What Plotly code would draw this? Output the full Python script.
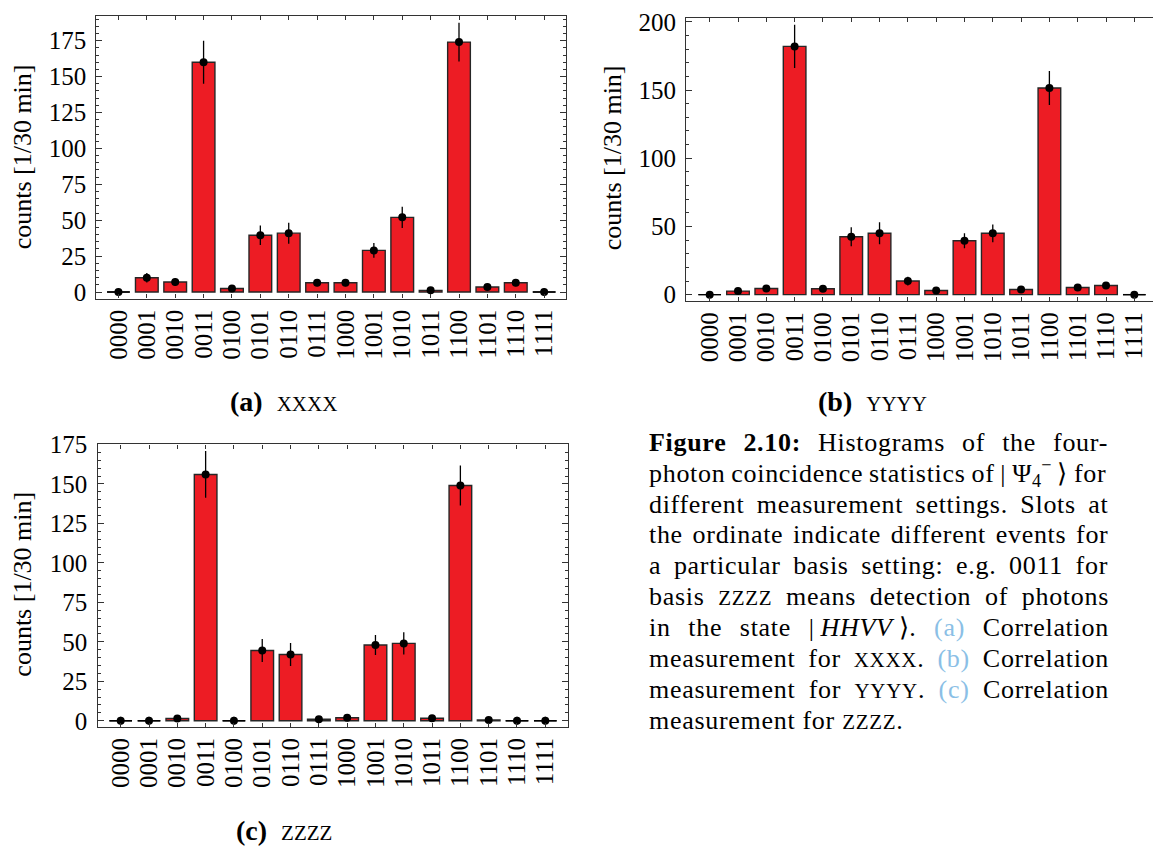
import plotly.graph_objects as go

# ---------------- data ----------------
states = ["0000", "0001", "0010", "0011", "0100", "0101", "0110", "0111",
          "1000", "1001", "1010", "1011", "1100", "1101", "1110", "1111"]

xxxx_counts = [0, 10, 7, 160, 2.5, 39.5, 41, 6.5, 6.5, 29, 52, 1.2, 174, 3.5, 6.5, 0]
xxxx_err = [2.5, 3.3, 2.8, 15, 1.7, 6.8, 7.3, 2.5, 2.5, 5.2, 7.4, 1.2, 13.5, 2, 2.5, 2.5]

yyyy_counts = [0, 2.6, 4.5, 182, 4.3, 42.5, 45, 10, 3.1, 39.5, 45, 3.8, 151.5, 5.2, 6.7, 0]
yyyy_err = [2.5, 1.6, 2.1, 15.9, 2.1, 7, 8, 3.2, 1.8, 5.5, 6.5, 1.9, 12.5, 2.3, 2.6, 2.5]

zzzz_counts = [0, 0, 1.4, 156, 0, 44.5, 42, 1, 1.9, 48, 49, 1.6, 149, 0.5, 0, 0]
zzzz_err = [2.5, 2.5, 1.2, 14.8, 2.5, 7.3, 7.3, 1, 1.4, 6.3, 7, 1.3, 12.6, 0.7, 2.5, 2.5]

panel_labels = ["(a)", "(b)", "(c)"]
panel_bases = ["XXXX", "YYYY", "ZZZZ"]
y_title = "counts [1/30 min]"

# caption: list of lines, each a list of (text, kind) segments
caption = [
    [("Figure 2.10:", "b"), (" Histograms of the four-", "r")],
    [("photon coincidence statistics of |\u2009Ψ", "r"), ("4", "sub"), ("−", "sup"), ("\u2009⟩ for", "r")],
    [("different measurement settings. Slots at", "r")],
    [("the ordinate indicate different events for", "r")],
    [("a particular basis setting: e.g. 0011 for", "r")],
    [("basis ", "r"), ("ZZZZ", "sc"), (" means detection of photons", "r")],
    [("in the state |\u2009", "r"), ("HHVV", "i"), ("\u2009⟩. ", "r"), ("(a)", "blue"), (" Correlation", "r")],
    [("measurement for ", "r"), ("XXXX", "sc"), (". ", "r"), ("(b)", "blue"), (" Correlation", "r")],
    [("measurement for ", "r"), ("YYYY", "sc"), (". ", "r"), ("(c)", "blue"), (" Correlation", "r")],
    [("measurement for ", "r"), ("ZZZZ", "sc"), (".", "r")],
]

# ---------------- style ----------------
W, H = 1153, 857
FONT = "Liberation Serif"
FS = 25
CFS = 26          # caption font size
SC_FS = 21        # small-caps size in the caption
LS = 0.7          # caption letter spacing
RED = "#ED1C24"
BLUE_C = "#8BBFE6"
BAR_W = 0.8

def px(x):
    return x / W

def py(y):
    return 1 - y / H

# Times-compatible advance widths (per 1000 em) used to justify the caption
REG = dict(zip("abcdefghijklmnopqrstuvwxyz",
               [444, 500, 444, 500, 444, 333, 500, 500, 278, 278, 500, 278, 778, 500, 500,
                500, 500, 333, 389, 278, 500, 500, 722, 500, 500, 444]))
REG.update(dict(zip("ABCDEFGHIJKLMNOPQRSTUVWXYZ",
                    [722, 667, 667, 722, 611, 556, 722, 722, 333, 389, 722, 611, 889, 722, 722,
                     556, 722, 667, 556, 611, 722, 722, 944, 722, 722, 611])))
REG.update({" ": 250, "\u2009": 200, "(": 333, ")": 333, "-": 333, ".": 250, ":": 278,
            "|": 200, "Ψ": 780, "⟩": 390, "−": 564})
for d in "0123456789":
    REG[d] = 500
BOLD = dict(REG)
BOLD.update({"F": 611, "u": 556, "r": 444, ":": 333, "a": 500, "b": 556})
ITAL = dict(REG)
ITAL.update({"H": 722, "V": 611})

def seg_width(text, kind):
    table, size = REG, CFS
    if kind == "b":
        table = BOLD
    elif kind == "i":
        table = ITAL
    elif kind == "sc":
        size = SC_FS
    elif kind in ("sub", "sup"):
        size = CFS * 0.7
    return sum(table.get(c, 500) for c in text) * size / 1000 + LS * len(text)

CAP_LEFT, CAP_RIGHT = 647, 1107

def build_line(segs, justify):
    natural = sum(seg_width(t, k) for t, k in segs)
    nsp = sum(t.count(" ") for t, k in segs)
    ws = (CAP_RIGHT - CAP_LEFT - natural) / nsp if (justify and nsp) else 0
    out = []
    for t, k in segs:
        style = "word-spacing:%.2fpx;letter-spacing:%.2fpx" % (ws, LS)
        if k == "b":
            out.append("<span style='%s;font-weight:bold'>%s</span>" % (style, t))
        elif k == "i":
            out.append("<span style='%s;font-style:italic'>%s</span>" % (style, t))
        elif k == "sc":
            out.append("<span style='%s;font-size:%dpx'>%s</span>" % (style, SC_FS, t))
        elif k == "blue":
            out.append("<span style='%s;color:%s'>%s</span>" % (style, BLUE_C, t))
        elif k == "sub":
            out.append("<sub>%s</sub>" % t)
        elif k == "sup":
            out.append("<sup>%s</sup>" % t)
        else:
            out.append("<span style='%s'>%s</span>" % (style, t))
    return "".join(out)

panels = [
    dict(counts=xxxx_counts, err=xxxx_err, xd=[px(96.3), px(566)], yd=[py(292.7), py(3.3)],
         xr=[-0.78, 15.77], yr=[-4.5, 192], major=25, minor=5, mirror_y=True,
         title_xy=(22, 148), cap_xy=(283, 398)),
    dict(counts=yyyy_counts, err=yyyy_err, xd=[px(686.2), 1.0], yd=[py(295.3), py(5)],
         xr=[-0.83, 15.66], yr=[-4.7, 202.9], major=50, minor=10, mirror_y=False,
         title_xy=(612, 149), cap_xy=(872, 398)),
    dict(counts=zzzz_counts, err=zzzz_err, xd=[px(97.5), px(567.8)], yd=[py(731.7), py(442.3)],
         xr=[-0.82, 15.795], yr=[-3.8, 175], major=25, minor=5, mirror_y=True,
         title_xy=(23, 586), cap_xy=(284, 838)),
]

fig = go.Figure()
annotations = []
xs = list(range(len(states)))

for k, p in enumerate(panels):
    sfx = "" if k == 0 else str(k + 1)
    xa, ya = "x" + sfx, "y" + sfx
    fig.add_trace(go.Bar(x=xs, y=p["counts"], width=BAR_W, xaxis=xa, yaxis=ya,
                         marker=dict(color=RED, line=dict(color="#262626", width=1.4)),
                         hoverinfo="skip"))
    zx, zy = [], []
    for i, v in enumerate(p["counts"]):
        if v == 0:
            zx += [i - BAR_W / 2, i + BAR_W / 2, None]
            zy += [0, 0, None]
    fig.add_trace(go.Scatter(x=zx, y=zy, mode="lines", xaxis=xa, yaxis=ya,
                             line=dict(color="black", width=1.4), hoverinfo="skip"))
    fig.add_trace(go.Scatter(x=xs, y=p["counts"], mode="markers", xaxis=xa, yaxis=ya,
                             marker=dict(color="black", size=8),
                             error_y=dict(type="data", array=p["err"], visible=True,
                                          color="black", thickness=1.3, width=0),
                             hoverinfo="skip"))
    axis_common = dict(showline=True, linecolor="#333", linewidth=1.3, ticks="inside",
                       tickcolor="#333", showgrid=False, zeroline=False,
                       tickfont=dict(family=FONT, size=FS, color="black"))
    fig.layout["xaxis" + sfx] = dict(
        domain=p["xd"], range=p["xr"], anchor=ya, tickmode="array", tickvals=xs,
        ticktext=states, tickangle=-90, ticklen=4, mirror="ticks", **axis_common)
    fig.layout["yaxis" + sfx] = dict(
        domain=p["yd"], range=p["yr"], anchor=xa, dtick=p["major"], tick0=0, ticklen=6,
        mirror="ticks" if p["mirror_y"] else False,
        minor=dict(dtick=p["minor"], tick0=0, ticks="inside", ticklen=3, tickcolor="#333"),
        ticklabelstandoff=4, **axis_common)
    tx, ty = p["title_xy"]
    annotations.append(dict(x=px(tx), y=py(ty), xref="paper", yref="paper", text=y_title,
                            textangle=-90, showarrow=False, xanchor="center", yanchor="middle",
                            font=dict(family=FONT, size=26, color="black")))
    cx, cy = p["cap_xy"]
    annotations.append(dict(x=px(cx), y=py(cy), xref="paper", yref="paper",
                            text="<b>%s</b>&#8194;<span style='font-size:21px'>%s</span>"
                                 % (panel_labels[k], panel_bases[k]),
                            showarrow=False, xanchor="center", yanchor="middle",
                            font=dict(family=FONT, size=28, color="black")))

for i, segs in enumerate(caption):
    annotations.append(dict(x=px(CAP_LEFT), y=py(440 + i * 31.7), xref="paper", yref="paper",
                            text=build_line(segs, justify=(i < len(caption) - 1)),
                            showarrow=False, xanchor="left", yanchor="middle",
                            font=dict(family=FONT, size=CFS, color="black")))

fig.update_layout(width=W, height=H, margin=dict(l=0, r=0, t=0, b=0),
                  paper_bgcolor="white", plot_bgcolor="white", showlegend=False,
                  bargap=0.2, annotations=annotations)

fig.write_html("out.html")
